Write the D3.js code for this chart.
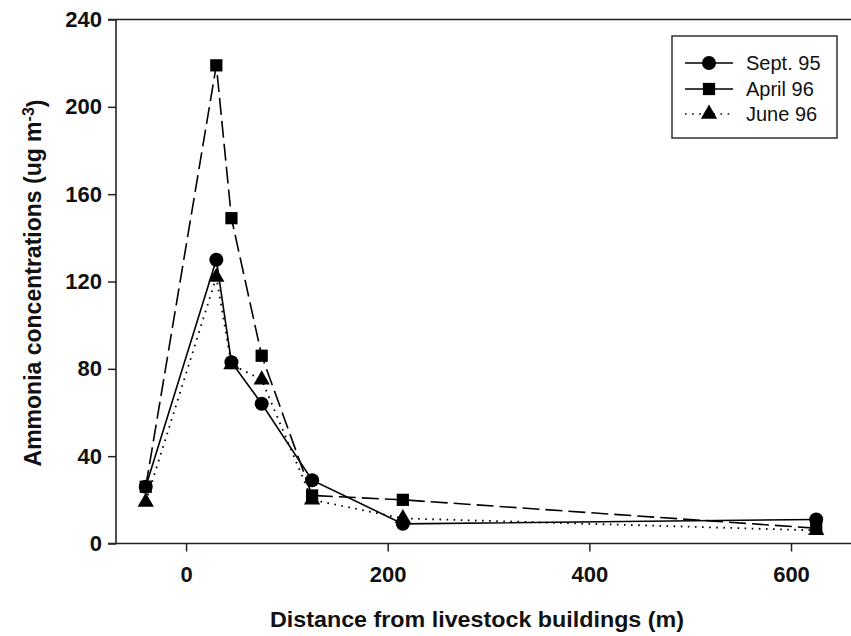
<!DOCTYPE html>
<html><head><meta charset="utf-8">
<script src="https://cdn.jsdelivr.net/npm/d3@7"></script>
<style>
body{margin:0;background:#fff;}
svg{display:block;font-family:"Liberation Sans",Arial,sans-serif;}
</style></head>
<body><svg id="c" width="851" height="636"></svg>
<script>
const distances = [-40, 30, 45, 75, 125, 215, 625];
const sept95 = [26, 130, 83, 64, 29, 9, 11];
const april96 = [26, 219, 149, 86, 22, 20, 7];
const june96 = [19, 122, 82, 75, 20, 11.5, 6];
const seriesNames = ["Sept. 95", "April 96", "June 96"];
const xTicks = [0, 200, 400, 600];
const yTicks = [0, 40, 80, 120, 160, 200, 240];

const svg = d3.select("#c");
const x = d3.scaleLinear().domain([-69.5, 660]).range([116, 851.5]);
const y = d3.scaleLinear().domain([0, 240]).range([543.5, 19.5]);

const series = [
  {name: seriesNames[0], vals: sept95, dash: null, sym: d3.symbolCircle, size: 155},
  {name: seriesNames[1], vals: april96, dash: "17,6", sym: d3.symbolSquare, size: 150},
  {name: seriesNames[2], vals: june96, dash: "1.6,5.5", sym: d3.symbolTriangle, size: 115}
];

// axes
const ax = svg.append("g").attr("transform", "translate(0,543.5)")
  .call(d3.axisBottom(x).tickValues(xTicks).tickSize(8).tickPadding(15).tickFormat(d3.format("d")));
const ay = svg.append("g").attr("transform", "translate(116,0)")
  .call(d3.axisLeft(y).tickValues(yTicks).tickSize(8).tickPadding(6).tickFormat(d3.format("d")));
[ax, ay].forEach(g => {
  g.select(".domain").remove();
  g.selectAll(".tick line").attr("stroke", "#222").attr("stroke-width", 1.5);
  g.selectAll(".tick text").attr("fill", "#111").style("font-size", "22px").style("font-weight", "bold");
});
// frame lines
svg.append("line").attr("x1", 108).attr("x2", 851).attr("y1", y(0)).attr("y2", y(0)).attr("stroke", "#222").attr("stroke-width", 1.6);
svg.append("line").attr("x1", 108).attr("x2", 851).attr("y1", y(240)).attr("y2", y(240)).attr("stroke", "#222").attr("stroke-width", 1.6);
svg.append("line").attr("x1", x.range()[0]).attr("x2", x.range()[0]).attr("y1", y(240)).attr("y2", y(0)).attr("stroke", "#222").attr("stroke-width", 1.6);

// data
const line = d3.line().x((d, i) => x(distances[i])).y(d => y(d));
series.forEach(s => {
  svg.append("path").datum(s.vals).attr("d", line).attr("fill", "none")
    .attr("stroke", "#000").attr("stroke-width", s.dash === "1.6,5.5" ? 1.8 : 1.6)
    .attr("stroke-dasharray", s.dash);
});
[series[2], series[1], series[0]].forEach(s => {
  svg.append("g").selectAll("path").data(s.vals).join("path")
    .attr("transform", (d, i) => `translate(${x(distances[i])},${y(d)})`)
    .attr("d", d3.symbol().type(s.sym).size(s.size)).attr("fill", "#000");
});

// legend
const lg = svg.append("g");
lg.append("rect").attr("x", 672).attr("y", 36).attr("width", 165).attr("height", 102)
  .attr("fill", "#fff").attr("stroke", "#222").attr("stroke-width", 1.4);
const rowsY = [63, 89, 114];
series.forEach((s, i) => {
  lg.append("line").attr("x1", 685).attr("x2", 733).attr("y1", rowsY[i]).attr("y2", rowsY[i])
    .attr("stroke", "#000").attr("stroke-width", 1.6)
    .attr("stroke-dasharray", i === 2 ? "1.6,5.5" : null);
  lg.append("path").attr("transform", `translate(709,${rowsY[i]})`)
    .attr("d", d3.symbol().type(s.sym).size(s.size)).attr("fill", "#000");
  lg.append("text").attr("x", 746).attr("y", rowsY[i]).attr("dy", "0.36em")
    .style("font-size", "20px").attr("fill", "#111").text(s.name);
});

// axis titles
svg.append("text").attr("x", 477).attr("y", 627).attr("text-anchor", "middle")
  .style("font-size", "22px").style("font-weight", "bold").attr("fill", "#111")
  .attr("textLength", 414).attr("lengthAdjust", "spacingAndGlyphs")
  .text("Distance from livestock buildings (m)");
const yt = svg.append("text").attr("transform", "translate(41,283) rotate(-90)")
  .attr("text-anchor", "middle").style("font-size", "23px").style("font-weight", "bold").attr("fill", "#111");
yt.append("tspan").text("Ammonia concentrations (ug m");
yt.append("tspan").attr("dy", "-0.45em").style("font-size", "16px").text("-3");
yt.append("tspan").attr("dy", "0.45em").text(")");
</script></body></html>
